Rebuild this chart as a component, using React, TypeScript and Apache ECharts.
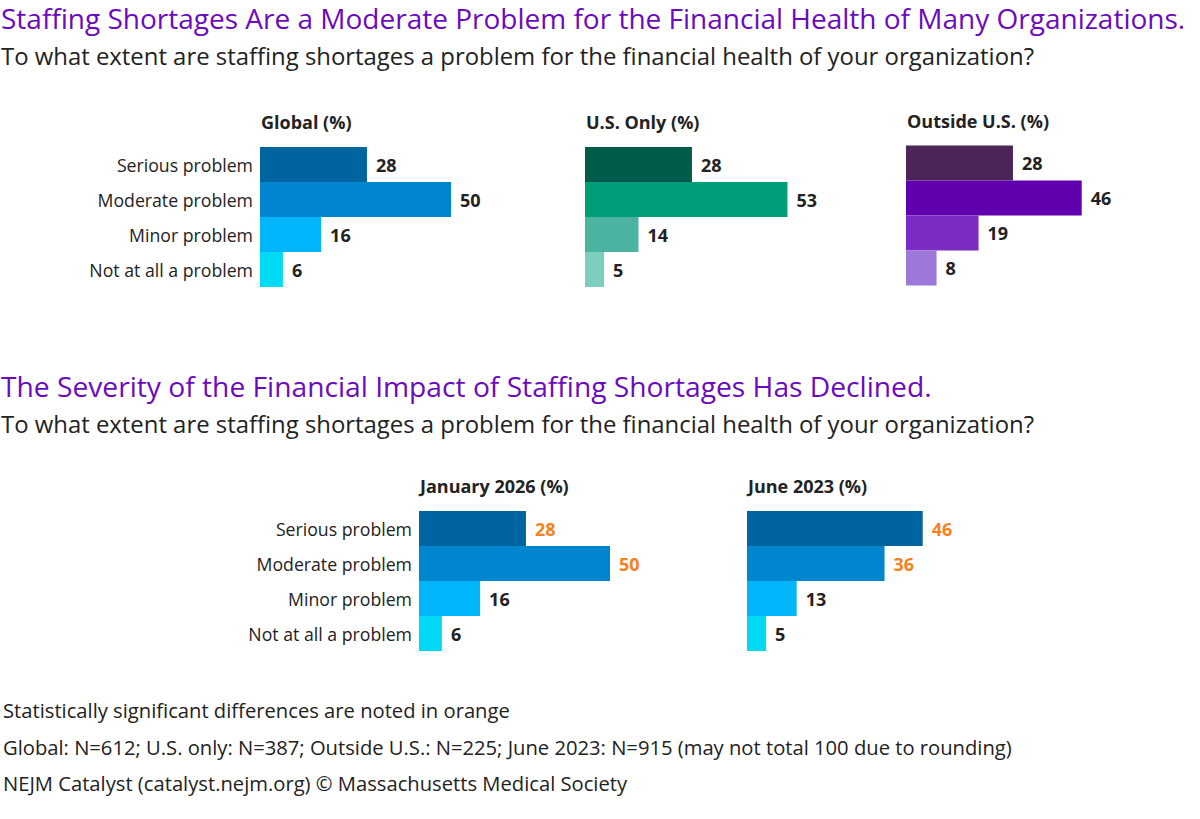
import React, { useEffect, useRef } from "react";
import * as echarts from "echarts";

const categories = ["Serious problem", "Moderate problem", "Minor problem", "Not at all a problem"];
const globalValues = [28, 50, 16, 6];
const usValues = [28, 53, 14, 5];
const outsideValues = [28, 46, 19, 8];
const jan2026Values = [28, 50, 16, 6];
const jun2023Values = [46, 36, 13, 5];
const jan2026Significant = [true, true, false, false];
const jun2023Significant = [true, true, false, false];

const blueColors = ["#0064A0", "#0085CF", "#00B5F9", "#00DAF5"];
const greenColors = ["#005C4A", "#009E78", "#4CB3A0", "#7FCDBE"];
const purpleColors = ["#4C2558", "#6000AE", "#7A2CC3", "#9C78D9"];

const title1 = "Staffing Shortages Are a Moderate Problem for the Financial Health of Many Organizations.";
const title2 = "The Severity of the Financial Impact of Staffing Shortages Has Declined.";
const subtitle = "To what extent are staffing shortages a problem for the financial health of your organization?";
const footnotes = [
  "Statistically significant differences are noted in orange",
  "Global: N=612; U.S. only: N=387; Outside U.S.: N=225; June 2023: N=915 (may not total 100 due to rounding)",
  "NEJM Catalyst (catalyst.nejm.org) © Massachusetts Medical Society",
];

const FONT = "'Open Sans', 'Noto Sans', sans-serif";
const ORANGE = "#F58220";
const TEXT = "#222222";
const PURPLE = "#6B0AC0";

export default function App() {
  const ref = useRef<HTMLDivElement>(null);
  useEffect(() => {
    document.body.style.margin = "0";
    const chart = echarts.init(ref.current!, null, { renderer: "svg" });

    const panels = [
      { name: "Global (%)", left: 260, top: 147, values: globalValues, colors: blueColors, sig: [false, false, false, false], showCats: true },
      { name: "U.S. Only (%)", left: 585, top: 147, values: usValues, colors: greenColors, sig: [false, false, false, false], showCats: false },
      { name: "Outside U.S. (%)", left: 906, top: 145.5, values: outsideValues, colors: purpleColors, sig: [false, false, false, false], showCats: false },
      { name: "January 2026 (%)", left: 419, top: 511, values: jan2026Values, colors: blueColors, sig: jan2026Significant, showCats: true },
      { name: "June 2023 (%)", left: 747, top: 511, values: jun2023Values, colors: blueColors, sig: jun2023Significant, showCats: false },
    ];

    const MAXV = 60;
    const PX_PER = 3.82;

    const grid = panels.map((p) => ({ left: p.left, top: p.top, width: MAXV * PX_PER, height: 140 }));
    const xAxis = panels.map((_, i) => ({
      type: "value", gridIndex: i, min: 0, max: MAXV, show: false,
    }));
    const yAxis = panels.map((p, i) => ({
      type: "category", gridIndex: i, data: categories, inverse: true,
      axisLine: { show: false }, axisTick: { show: false }, splitLine: { show: false },
      axisLabel: { show: p.showCats, fontSize: 17.7, color: TEXT, fontFamily: FONT, margin: 7 },
    }));
    const series = panels.map((p, i) => ({
      type: "bar", xAxisIndex: i, yAxisIndex: i, barCategoryGap: 0, barWidth: "100%",
      data: p.values.map((v, j) => ({
        value: v,
        itemStyle: { color: p.colors[j] },
        label: { color: p.sig[j] ? ORANGE : TEXT },
      })),
      label: { show: true, position: "right", distance: 9, fontSize: 18, fontWeight: "bold", fontFamily: FONT },
    }));

    const panelTitles = panels.map((p) => ({
      type: "text", x: p.left + 1, y: p.top - 25,
      style: { text: p.name, font: `bold 18px ${FONT}`, fill: TEXT, verticalAlign: "middle" },
    }));

    const graphic: any[] = [
      { type: "text", x: 1, y: 18, style: { text: title1, font: `28px ${FONT}`, fill: PURPLE, verticalAlign: "middle" } },
      { type: "text", x: 1, y: 55, style: { text: subtitle, font: `23.9px ${FONT}`, fill: TEXT, verticalAlign: "middle" } },
      { type: "text", x: 1, y: 386, style: { text: title2, font: `28.2px ${FONT}`, fill: PURPLE, verticalAlign: "middle" } },
      { type: "text", x: 1, y: 423, style: { text: subtitle, font: `23.9px ${FONT}`, fill: TEXT, verticalAlign: "middle" } },
      ...footnotes.map((t, i) => ({
        type: "text", x: 3, y: 710 + i * 36.5,
        style: { text: t, font: `20.2px ${FONT}`, fill: TEXT, verticalAlign: "middle" },
      })),
      ...panelTitles,
    ];

    chart.setOption({
      animation: false,
      backgroundColor: "#ffffff",
      grid, xAxis, yAxis, series, graphic,
    } as any);
    return () => chart.dispose();
  }, []);
  return <div ref={ref} style={{ width: 1200, height: 819 }} />;
}
